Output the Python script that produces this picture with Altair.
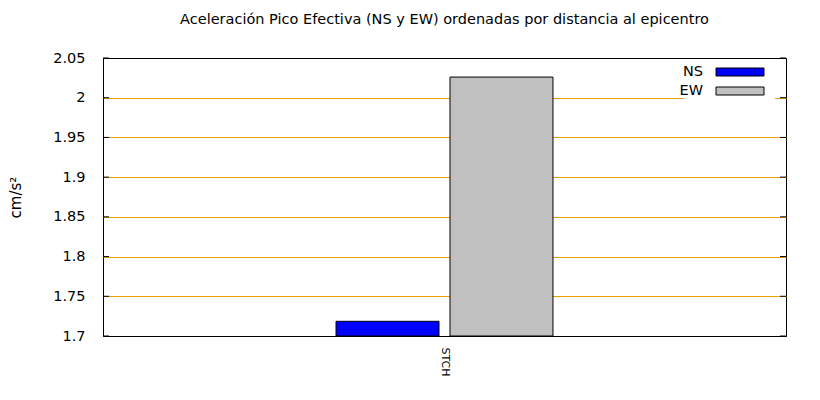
import altair as alt
import pandas as pd

# ---- data ----
stations = ["STCH"]
series = ["NS", "EW"]
ns_values = [1.7185]
ew_values = [2.026]
colors = ["#0000ff", "#c0c0c0"]
y_ticks = [1.7, 1.75, 1.8, 1.85, 1.9, 1.95, 2.0, 2.05]
y_domain = [1.7, 2.05]
title_text = "Aceleración Pico Efectiva (NS y EW) ordenadas por distancia al epicentro"
y_title = "cm/s²"

rows = []
for i, st in enumerate(stations):
    rows.append({"station": st, "series": "NS", "value": ns_values[i]})
    rows.append({"station": st, "series": "EW", "value": ew_values[i]})
df = pd.DataFrame(rows)
tick_df = pd.DataFrame({"value": y_ticks})
leg_df = pd.DataFrame({"series": series, "color": colors})

W, H = 683, 278
FONT = "DejaVu Sans"
GRID = "#e69f00"

yscale = alt.Scale(domain=y_domain, nice=False, zero=False)
edge_test = f"datum.value <= {y_domain[0] + 1e-9} || datum.value >= {y_domain[1] - 1e-9}"
yaxis = alt.Axis(
    values=y_ticks, format="~g", title=y_title, grid=True,
    gridColor={"condition": {"test": edge_test, "value": "black"}, "value": GRID},
    gridWidth=1, gridOpacity=1, ticks=False, tickSize=0, domain=False,
    labelFontSize=14.5, labelFont=FONT, labelColor="black", labelPadding=18,
    titleFontSize=15, titleFont=FONT, titleFontWeight="normal",
    titleColor="black", titlePadding=29,
)

bars = alt.Chart(df).mark_bar(stroke="black", strokeWidth=1, clip=True).encode(
    x=alt.X(
        "station:N",
        sort=stations,
        scale=alt.Scale(paddingInner=0, paddingOuter=1.0),
        axis=alt.Axis(
            title=None, labelAngle=90, labelAlign="left", labelBaseline="middle",
            labelPadding=11, ticks=False, tickSize=0, domain=False, grid=False,
            labelFontSize=11, labelFont=FONT, labelColor="black",
        ),
    ),
    xOffset=alt.XOffset(
        "series:N", sort=series,
        scale=alt.Scale(domain=series, paddingInner=0.0965, paddingOuter=0.047),
    ),
    y=alt.Y("value:Q", scale=yscale, axis=yaxis),
    y2=alt.datum(y_domain[0]),
    color=alt.Color("series:N", scale=alt.Scale(domain=series, range=colors), legend=None),
)

left_ticks = alt.Chart(tick_df).mark_rule(color="black", strokeWidth=1).encode(
    y=alt.Y("value:Q", scale=yscale, axis=yaxis),
    x=alt.value(0), x2=alt.value(6),
)
right_ticks = alt.Chart(tick_df).mark_rule(color="black", strokeWidth=1).encode(
    y=alt.Y("value:Q", scale=yscale, axis=yaxis),
    x=alt.value(W - 6), x2=alt.value(W),
)

legend_bg = alt.Chart(pd.DataFrame({"a": [0]})).mark_rect(color="white").encode(
    x=alt.value(581), x2=alt.value(672), y=alt.value(2), y2=alt.value(41),
)

legend_layers = [legend_bg]
for i, s in enumerate(series):
    yy = 10 + 19 * i
    base = alt.Chart(leg_df).transform_filter(alt.datum.series == s)
    legend_layers.append(
        base.mark_rect(stroke="black", strokeWidth=1).encode(
            x=alt.value(613), x2=alt.value(661), y=alt.value(yy), y2=alt.value(yy + 8),
            fill=alt.value(colors[i]),
        )
    )
    legend_layers.append(
        base.mark_text(align="right", baseline="middle", fontSize=14.5, font=FONT, color="black").encode(
            x=alt.value(600), y=alt.value(yy + 4), text="series:N",
        )
    )

chart = alt.layer(bars, left_ticks, right_ticks, *legend_layers).properties(
    width=W,
    height=H,
    title=alt.TitleParams(
        title_text, fontSize=14.5, font=FONT, fontWeight="normal", anchor="middle",
        color="black", offset=23,
    ),
    autosize=alt.AutoSizeParams(type="none"),
    padding={"left": 95, "top": 50, "right": 20, "bottom": 50},
    background="white",
).configure_view(stroke="black", strokeWidth=1)

chart.save("out.html", embed_options={"renderer": "svg", "actions": False})
